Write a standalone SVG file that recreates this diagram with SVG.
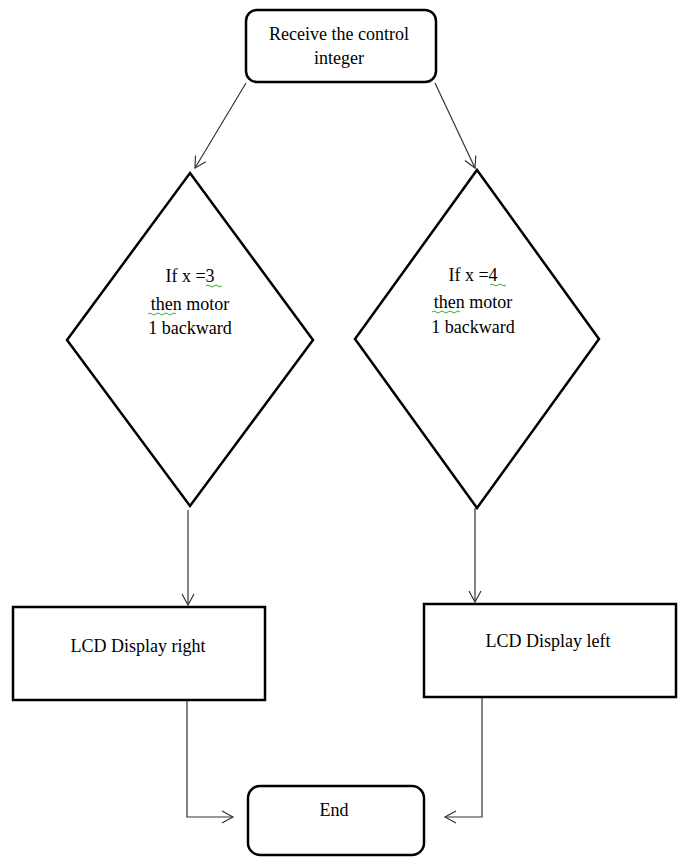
<svg xmlns="http://www.w3.org/2000/svg" width="680" height="857" viewBox="0 0 680 857">
<defs>
<marker id="arr" markerWidth="14" markerHeight="14" refX="12" refY="7" orient="auto" markerUnits="userSpaceOnUse">
<path d="M1,1 L12,7 L1,13" fill="none" stroke="#333" stroke-width="1.2"/>
</marker>
</defs>
<style>
.shape{fill:#fff;stroke:#000;stroke-width:2.5}
.conn{fill:none;stroke:#333;stroke-width:1.2}
text{font-family:"Liberation Serif","Times New Roman",serif;font-size:18px;fill:#000;text-anchor:middle}
.sq{fill:none;stroke:#3a3;stroke-width:1}
</style>
<rect width="680" height="857" fill="#fff"/>
<g id="connectors">
<line class="conn" x1="246" y1="83" x2="195" y2="168" marker-end="url(#arr)"/>
<line class="conn" x1="435" y1="83" x2="475" y2="168" marker-end="url(#arr)"/>
<line class="conn" x1="188" y1="510" x2="188" y2="605" marker-end="url(#arr)"/>
<line class="conn" x1="475" y1="508" x2="475" y2="602" marker-end="url(#arr)"/>
<polyline class="conn" points="187,701 187,817 233,817" marker-end="url(#arr)"/>
<polyline class="conn" points="482,698 482,817 445,817" marker-end="url(#arr)"/>
</g>
<g id="start">
<rect class="shape" x="246" y="10" width="190" height="72" rx="11"/>
<text x="339" y="40">Receive the control</text>
<text x="339" y="64">integer</text>
</g>
<g id="decision1">
<polygon class="shape" points="190,173 313,340 190,506 67,340"/>
<text x="190" y="282">If x =3</text>
<text x="190" y="310">then motor</text>
<text x="190" y="334">1 backward</text>
<path class="sq" d="M206,286 q2,-2 4,0 t4,0 t4,0 t4,0"/>
<path class="sq" d="M148,314 q2,-2 4,0 t4,0 t4,0 t4,0 t4,0 t4,0 t4,0"/>
</g>
<g id="decision2">
<polygon class="shape" points="477,170 599,339 477,508 355,339"/>
<text x="473" y="281">If x =4</text>
<text x="473" y="308">then motor</text>
<text x="473" y="333">1 backward</text>
<path class="sq" d="M490,285 q2,-2 4,0 t4,0 t4,0 t4,0"/>
<path class="sq" d="M432,312 q2,-2 4,0 t4,0 t4,0 t4,0 t4,0 t4,0 t4,0"/>
</g>
<g id="lcdRight">
<rect class="shape" x="13" y="607" width="252" height="93"/>
<text x="138" y="652">LCD Display right</text>
</g>
<g id="lcdLeft">
<rect class="shape" x="424" y="604" width="252" height="93"/>
<text x="548" y="647">LCD Display left</text>
</g>
<g id="end">
<rect class="shape" x="248" y="786" width="176" height="69" rx="12"/>
<text x="334" y="816">End</text>
</g>
</svg>
